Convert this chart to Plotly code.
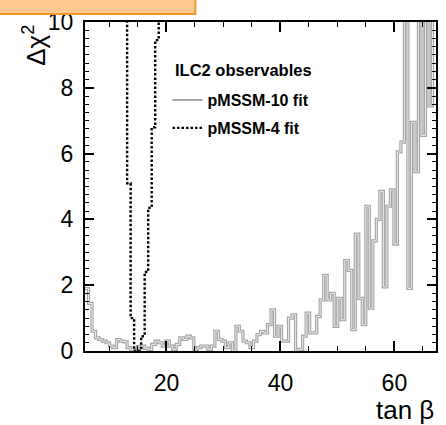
import numpy as np
import plotly.graph_objects as go

# ---------------- data ----------------
x_min, x_max = 5.7, 67.3
n_bins = 100
bin_edges = np.linspace(x_min, x_max, n_bins + 1)

# pMSSM-10 fit: delta chi^2 per tan(beta) bin (values > 10 are off scale)
pmssm10 = [
    1.9, 1.45, 0.6, 0.4, 0.35, 0.3, 0.25, 0.15, 0.1, 0.35,
    0.3, 0.28, 0.1, 0.03, 0.02, 0.13, 0.15, 0.08, 0.05, 0.2,
    0.3, 0.25, 0.15, 0.3, 0.15, 0.05, 0.2, 0.4, 0.35, 0.45,
    0.4, 0.05, 0.1, 0.15, 0.15, 0.05, 0.15, 0.6, 0.35, 0.3,
    0.1, 0.25, 0.02, 0.75, 0.6, 0.3, 0.25, 0.1, 0.3, 0.5,
    0.6, 0.55, 0.8, 1.25, 0.45, 0.75, 0.3, 0.3, 1.0, 1.1,
    0.02, 0.05, 0.45, 1.15, 0.55, 0.55, 1.05, 1.55, 2.3, 1.55,
    1.75, 0.75, 1.6, 0.95, 2.75, 2.45, 0.65, 3.55, 1.6, 0.8,
    4.4, 1.3, 3.35, 4.0, 4.85, 1.95, 4.4, 4.9, 3.25, 6.05,
    6.35, 12.0, 1.9, 6.95, 5.45, 12.0, 6.55, 12.0, 7.45, 12.0,
]

# pMSSM-4 fit: only the bins near the minimum are on scale
pmssm4_first_bin = 11
pmssm4 = [12.0, 5.1, 1.0, 0.0, 0.0, 0.45, 2.4, 4.35, 6.8, 9.45, 12.0]

x_ticks = [20, 40, 60]
y_ticks = [0, 2, 4, 6, 8, 10]


def steps(values, first_bin):
    edges = bin_edges[first_bin:first_bin + len(values) + 1]
    xs = list(edges[:-1]) + [edges[-1]]
    ys = list(values) + [values[-1]]
    return xs, ys


FONT = "Liberation Sans"

fig = go.Figure()

x10, y10 = steps(pmssm10, 0)
# hollow-looking grey outline: wide light-grey line with a near-white core
fig.add_trace(go.Scatter(
    x=x10, y=y10, mode="lines", showlegend=False,
    line=dict(color="#a4a4a4", width=3.2, shape="hv"), hoverinfo="skip"))
fig.add_trace(go.Scatter(
    x=x10, y=y10, mode="lines", showlegend=False,
    line=dict(color="#ececec", width=1.0, shape="hv"), hoverinfo="skip"))
# legend entry for the grey histogram (thin grey sample line)
fig.add_trace(go.Scatter(
    x=[None], y=[None], mode="lines", name="pMSSM-10 fit", legend="legend",
    line=dict(color="#9a9a9a", width=1.6), hoverinfo="skip"))

x4, y4 = steps(pmssm4, pmssm4_first_bin)
fig.add_trace(go.Scatter(
    x=x4, y=y4, mode="lines", name="pMSSM-4 fit", legend="legend2",
    line=dict(color="black", width=2.4, dash="2.5px,2px", shape="hv"),
    hoverinfo="skip"))

L, R, T, B = 85, 8, 22, 74
W, H = 446, 425
pw, ph = W - L - R, H - T - B


def px(xpix):
    return (xpix - L) / pw


def py(ypix):
    return (H - B - ypix) / ph


axis_common = dict(
    showline=True, linecolor="black", linewidth=2, mirror="ticks",
    ticks="inside", tickcolor="black", tickwidth=1.5,
    showgrid=False, zeroline=False,
    tickfont=dict(family=FONT, size=23, color="black"),
)

legend_common = dict(
    xref="paper", yref="paper", xanchor="left", yanchor="middle",
    bgcolor="rgba(0,0,0,0)", borderwidth=0, itemwidth=30,
    font=dict(family=FONT, size=16, color="black", weight="bold"),
    tracegroupgap=0,
)

fig.update_layout(
    width=W, height=H,
    margin=dict(l=L, r=R, t=T, b=B),
    paper_bgcolor="white", plot_bgcolor="white",
    xaxis=dict(range=[x_min, x_max], tickvals=x_ticks, ticklen=10,
               minor=dict(dtick=5, tick0=0, ticklen=5, ticks="inside",
                          tickcolor="black", tickwidth=1.2),
               ticklabelstandoff=10, **axis_common),
    yaxis=dict(range=[0, 10], tickvals=y_ticks, ticklen=9,
               minor=dict(dtick=0.25, tick0=0, ticklen=4, ticks="inside",
                          tickcolor="black", tickwidth=1.2),
               ticklabelstandoff=5, **axis_common),
    legend=dict(x=px(168), y=py(100), **legend_common),
    legend2=dict(x=px(168), y=py(128), **legend_common),
    showlegend=True,
    annotations=[
        dict(text="ILC2 observables", xref="paper", yref="paper",
             x=px(174), y=py(70), xanchor="left", yanchor="middle",
             showarrow=False,
             font=dict(family=FONT, size=16.5, color="black", weight="bold")),
        dict(text="tan β", xref="paper", yref="paper",
             x=1.0, y=py(410), xanchor="right", yanchor="middle",
             showarrow=False, font=dict(family=FONT, size=26, color="black")),
        dict(text="Δχ<sup>2</sup>", xref="paper", yref="paper",
             x=px(34), y=py(68), xanchor="center", yanchor="bottom",
             textangle=-90, showarrow=False,
             font=dict(family=FONT, size=26, color="black")),
    ],
    shapes=[
        # cropped slide banner at the top-left
        dict(type="rect", xref="paper", yref="paper", layer="above",
             x0=px(-6), x1=px(196), y0=py(14), y1=py(-6),
             fillcolor="#FFC992", line=dict(color="#F5962A", width=2)),
    ],
)

fig.write_html("out.html")
